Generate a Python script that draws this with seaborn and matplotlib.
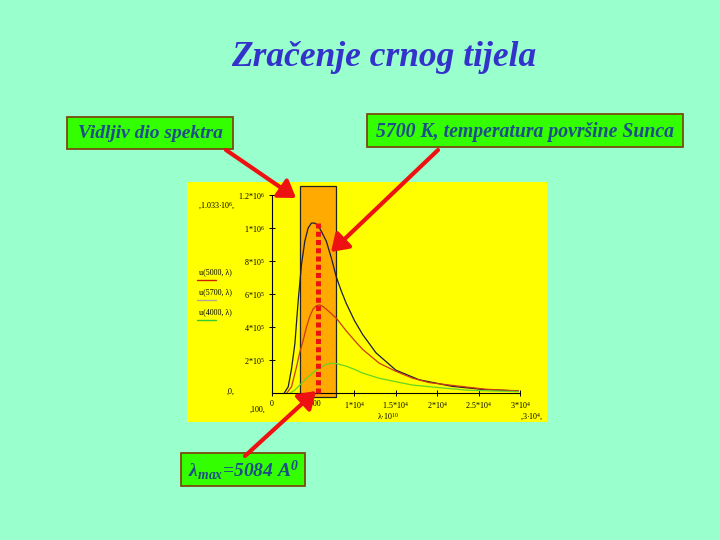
import matplotlib
matplotlib.use("Agg")
import matplotlib.pyplot as plt
from matplotlib.patches import Rectangle, FancyArrowPatch
from matplotlib.lines import Line2D
import matplotlib.transforms as mtransforms
import numpy as np
import pandas as pd
import seaborn as sns

# vrijednosti ocitane sa slike (lambda u A, u u proizvoljnim jedinicama)
lam_5700 = [1500, 2000, 2400, 2800, 3200, 3600, 4000, 4400, 4800, 5200, 5600, 6000,
            6600, 7200, 7800, 8400, 9000, 10000, 11000, 12600, 15000, 17800, 21800,
            25800, 29800]
u_5700 = [0, 40e3, 150e3, 300e3, 560e3, 780e3, 920e3, 1000e3, 1030e3, 1030e3, 1015e3,
          980e3, 920e3, 820e3, 705e3, 620e3, 545e3, 440e3, 355e3, 245e3, 140e3, 82e3,
          42e3, 22e3, 14e3]

lam_5000 = [1800, 2400, 3000, 3400, 3800, 4200, 4600, 5000, 5400, 5800, 6200, 6800,
            7800, 9000, 10000, 11000, 13000, 15000, 17000, 19000, 21800, 25800, 29800]
u_5000 = [0, 40e3, 160e3, 250e3, 320e3, 400e3, 465e3, 510e3, 530e3, 535e3, 525e3,
          500e3, 455e3, 378e3, 320e3, 265e3, 182e3, 133e3, 92e3, 65e3, 48e3, 25e3, 15e3]

lam_4000 = [2200, 2800, 3400, 3800, 4400, 5000, 5400, 6000, 6600, 7200, 7800, 9000,
            10000, 11000, 13000, 15000, 17000, 19000, 23800, 29800]
u_4000 = [0, 20e3, 50e3, 70e3, 100e3, 125e3, 140e3, 160e3, 175e3, 182e3, 180e3,
          164e3, 145e3, 122e3, 91e3, 70e3, 50e3, 40e3, 18e3, 10e3]

temps = ["5700", "5000", "4000"]
curve_colors = ["#1c1c3c", "#cc3a10", "#66d422"]
legend_colors = ["#cc2200", "#b0a890", "#33cc33"]
legend_labels = ["u(5000, λ)", "u(5700, λ)", "u(4000, λ)"]

x_ticks = [0, 5000, 10000, 15000, 20000, 25000, 30000]
x_ticklabels = ["0", "5000", "1*10$^{4}$", "1.5*10$^{4}$", "2*10$^{4}$",
                "2.5*10$^{4}$", "3*10$^{4}$"]
y_ticks = [2e5, 4e5, 6e5, 8e5, 1e6, 1.2e6]
y_ticklabels = ["2*10$^{5}$", "4*10$^{5}$", "6*10$^{5}$", "8*10$^{5}$",
                "1*10$^{6}$", "1.2*10$^{6}$"]

visible_band = (3400, 7800)
lam_line = 5550
line_top = 1.03e6

title = "Zračenje crnog tijela"
box_left_text = "Vidljiv dio spektra"
box_right_text = "5700 K, temperatura površine Sunca"

sns.set_style("ticks")
plt.rcParams["font.family"] = ["Liberation Serif", "DejaVu Serif"]
plt.rcParams["mathtext.fontset"] = "custom"
plt.rcParams["mathtext.rm"] = "Liberation Serif"
plt.rcParams["mathtext.it"] = "Liberation Serif:italic"
plt.rcParams["mathtext.bf"] = "Liberation Serif:bold"
plt.rcParams["mathtext.bfit"] = "Liberation Serif:bold:italic"

W, H = 720, 540
BG = "#99ffcc"
RED = "#ee1111"
TXT = "#1c4e8a"


def fx(x, y):
    return x / W, 1 - y / H


df = pd.concat([
    pd.DataFrame({"lam": lam_5700, "u": u_5700, "T": "5700"}),
    pd.DataFrame({"lam": lam_5000, "u": u_5000, "T": "5000"}),
    pd.DataFrame({"lam": lam_4000, "u": u_4000, "T": "4000"}),
])

fig = plt.figure(figsize=(7.2, 5.4), dpi=100)
fig.patch.set_facecolor(BG)

# zuta podloga
fig.add_artist(Rectangle(fx(187, 422), 360 / W, 240 / H, transform=fig.transFigure,
                         facecolor="#ffff00", edgecolor="none", zorder=-1))

ax = fig.add_axes([271.7 / W, 1 - 393.3 / H, 248.3 / W, 198.3 / H])
ax.set_facecolor("none")

trans = mtransforms.blended_transform_factory(ax.transData, ax.transAxes)
ax.add_patch(Rectangle((visible_band[0], -0.017), visible_band[1] - visible_band[0], 1.062,
                       transform=trans, facecolor="#ffaa00", edgecolor="#222222",
                       lw=0.9, clip_on=False, zorder=1))

sns.lineplot(data=df, x="lam", y="u", hue="T", palette=dict(zip(temps, curve_colors)),
             estimator=None, sort=False, legend=False, lw=0.9, ax=ax, zorder=2)

ax.plot([lam_line, lam_line], [line_top, 0], color=RED, lw=3.6,
        linestyle=(0, (1, 0.65)), zorder=4, clip_on=False)

ax.set_xlim(0, 30000)
ax.set_ylim(0, 1.2e6)
ax.set_xticks(x_ticks)
ax.set_xticklabels(x_ticklabels)
ax.set_yticks(y_ticks)
ax.set_yticklabels(y_ticklabels)
ax.set_xlabel("")
ax.set_ylabel("")
ax.tick_params(direction="inout", length=4, width=0.7, labelsize=5.8, pad=3,
               colors="black")
sns.despine(ax=ax)
for s in ["left", "bottom"]:
    ax.spines[s].set_linewidth(0.8)
    ax.spines[s].set_color("black")

# Mathcad oznake
small = dict(fontsize=5.8, color="black", ha="center", va="center")
fig.text(*fx(217, 206), ",1.033·10$^{6}$,", **small)
fig.text(*fx(231, 392), ",0,", **small)
fig.text(*fx(258, 410), ",100,", **small)
fig.text(*fx(388, 416), "λ·10$^{10}$", **small)
fig.text(*fx(532, 417), ",3·10$^{4}$,", **small)

for i, (lab, col) in enumerate(zip(legend_labels, legend_colors)):
    y = 272 + 20 * i
    fig.text(*fx(215, y), lab, **small)
    fig.add_artist(Line2D([197 / W, 216 / W], [1 - (y + 8) / H] * 2,
                          transform=fig.transFigure, color=col, lw=1))

fig.text(*fx(384, 58), title, fontsize=25.5, style="italic", weight="bold",
         color="#3333cc", ha="center", va="center")


def box(x0, y0, x1, y1, text, size):
    fig.add_artist(Rectangle(fx(x0, y1), (x1 - x0) / W, (y1 - y0) / H,
                             transform=fig.transFigure, facecolor="#33ff00",
                             edgecolor="#7a4a10", lw=1.3, zorder=5))
    t = fig.text(*fx((x0 + x1) / 2, (y0 + y1) / 2 + 1), text, fontsize=size,
                 style="italic", weight="bold", color=TXT, ha="center", va="center")
    t.set_zorder(6)


box(67, 117, 233, 149, box_left_text, 14)
box(367, 114, 683, 147, box_right_text, 14.2)
box(181, 453, 305, 486, r"$\mathbfit{\lambda}_{\mathbfit{max}}$=5084 A$^{\mathbfit{0}}$", 14)

for tail, head in [((226, 150), (296, 198)), ((438, 150), (331, 252)),
                   ((245, 456), (316, 391))]:
    fig.add_artist(FancyArrowPatch(fx(*tail), fx(*head), transform=fig.transFigure,
                                   arrowstyle="-|>,head_length=0.45,head_width=0.3",
                                   mutation_scale=22, color=RED, lw=3,
                                   shrinkA=0, shrinkB=0, zorder=7))

fig.savefig("out.png", dpi=100, facecolor=BG)
